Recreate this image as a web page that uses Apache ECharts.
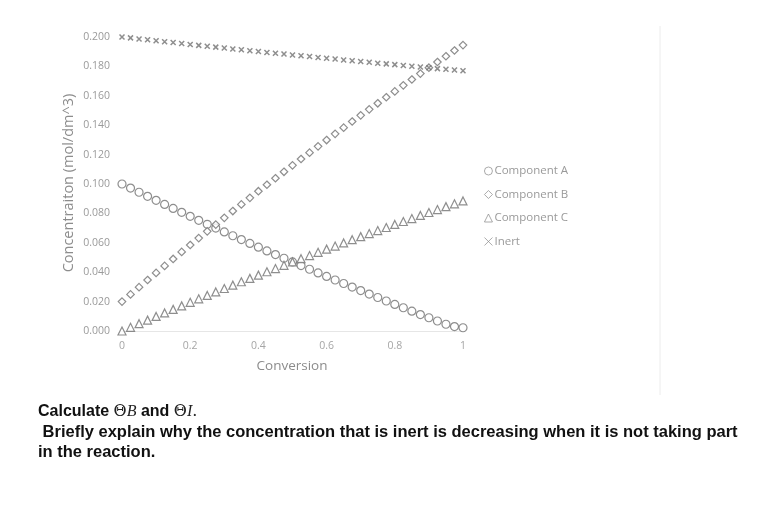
<!DOCTYPE html>
<html>
<head>
<meta charset="utf-8">
<script src="https://cdn.jsdelivr.net/npm/echarts@6/dist/echarts.min.js"></script>
<style>
html,body{margin:0;padding:0;background:#fff;}
#chart{width:763px;height:509px;}
</style>
</head>
<body>
<div id="chart"></div>
<script>
// Conversion values (x)
const conversion = [0,0.025,0.05,0.075,0.1,0.125,0.15,0.175,0.2,0.225,0.25,0.275,0.3,0.325,0.35,0.375,0.4,0.425,0.45,0.475,0.5,0.525,0.55,0.575,0.6,0.625,0.65,0.675,0.7,0.725,0.75,0.775,0.8,0.825,0.85,0.875,0.9,0.925,0.95,0.975,1];
// Concentrations (mol/dm^3)
const componentA = [0.1000,0.0972,0.0944,0.0916,0.0889,0.0861,0.0834,0.0807,0.0780,0.0753,0.0726,0.0700,0.0674,0.0648,0.0622,0.0596,0.0570,0.0545,0.0520,0.0495,0.0470,0.0445,0.0420,0.0395,0.0371,0.0347,0.0323,0.0299,0.0275,0.0251,0.0228,0.0204,0.0181,0.0158,0.0135,0.0112,0.0090,0.0068,0.0046,0.0030,0.0022];
const componentB = [0.0200,0.0249,0.0298,0.0347,0.0395,0.0443,0.0490,0.0538,0.0585,0.0632,0.0678,0.0724,0.0770,0.0816,0.0861,0.0906,0.0951,0.0995,0.1039,0.1083,0.1127,0.1170,0.1213,0.1256,0.1299,0.1341,0.1383,0.1425,0.1467,0.1508,0.1549,0.1590,0.1630,0.1671,0.1711,0.1751,0.1791,0.1830,0.1869,0.1908,0.1945];
const componentC = [0.0000,0.0025,0.0050,0.0074,0.0099,0.0123,0.0147,0.0171,0.0195,0.0219,0.0242,0.0266,0.0289,0.0312,0.0335,0.0358,0.0380,0.0403,0.0425,0.0447,0.0470,0.0492,0.0513,0.0535,0.0557,0.0578,0.0599,0.0621,0.0642,0.0663,0.0683,0.0704,0.0725,0.0745,0.0765,0.0786,0.0806,0.0826,0.0846,0.0865,0.0885];
const inert = [0.2000,0.1994,0.1987,0.1981,0.1974,0.1968,0.1962,0.1956,0.1949,0.1943,0.1937,0.1931,0.1925,0.1919,0.1913,0.1907,0.1901,0.1895,0.1890,0.1884,0.1878,0.1872,0.1867,0.1861,0.1855,0.1850,0.1844,0.1839,0.1833,0.1828,0.1822,0.1817,0.1812,0.1806,0.1801,0.1796,0.1791,0.1785,0.1780,0.1775,0.1770];
const seriesNames = ['Component A','Component B','Component C','Inert'];
const yTicks = [0,0.02,0.04,0.06,0.08,0.1,0.12,0.14,0.16,0.18,0.2];
const xTicks = [0,0.2,0.4,0.6,0.8,1];

const pairs = arr => conversion.map((x,i)=>[x,arr[i]]);
const markColor = '#727272';
const labelFont = '"Open Sans", Lato, sans-serif';

const chart = echarts.init(document.getElementById('chart'), null, {renderer:'canvas'});
function sym(name, symbol, size, data, bw){
  return {
    name: name, type: 'scatter', data: pairs(data),
    symbol: symbol, symbolSize: size,
    itemStyle: {color: '#ffffff', borderColor: markColor, borderWidth: bw},
    emphasis: {disabled: true}, animation: false, z: 3
  };
}
chart.setOption({
  backgroundColor: '#ffffff',
  animation: false,
  grid: {left: 122, right: 300, top: 37, bottom: 178},
  xAxis: {
    type: 'value', min: 0, max: 1, interval: 0.2,
    axisLine: {show: true, lineStyle: {color: '#e6e6e6', width: 1}},
    axisTick: {show: false}, splitLine: {show: false},
    axisLabel: {color: '#a6a6a6', fontSize: 10.5, fontFamily: labelFont, margin: 10,
      formatter: v => (xTicks.indexOf(Math.round(v*10)/10) >= 0 ? (v===0||v===1 ? String(v) : v.toFixed(1)) : '')}
  },
  yAxis: {
    type: 'value', min: 0, max: 0.2, interval: 0.02,
    axisLine: {show: false}, axisTick: {show: false}, splitLine: {show: false},
    axisLabel: {color: '#9a9a9a', fontSize: 10.5, fontFamily: labelFont, margin: 12,
      formatter: v => (yTicks.length ? v.toFixed(3) : '')}
  },
  legend: {
    orient: 'vertical', left: 479, top: 160, itemGap: 11.5,
    itemWidth: 8, itemHeight: 8, data: seriesNames,
    itemStyle: {color: '#ffffff', borderColor: '#8a8a8a', borderWidth: 0.9},
    textStyle: {color: '#9a9a9a', fontSize: 11.5, fontFamily: labelFont, padding: [0,0,0,-3]},
    selectedMode: false
  },
  series: [
    sym(seriesNames[0], 'circle', 8, componentA, 1.2),
    sym(seriesNames[1], 'diamond', 7.5, componentB, 1.2),
    sym(seriesNames[2], 'triangle', 8, componentC, 1.2),
    sym(seriesNames[3], 'path://M0 0L10 10M10 0L0 10', 5, inert, 1.5)
  ],
  graphic: [
    {type: 'line', shape: {x1: 660, y1: 26, x2: 660, y2: 395}, style: {stroke: '#ececec', lineWidth: 1}, silent: true},
    {type: 'text', x: 69, y: 183, rotation: Math.PI/2, silent: true,
      style: {text: 'Concentraiton (mol/dm^3)', fill: '#8c8c8c', font: '14.5px "Open Sans", Lato, sans-serif', align: 'center', verticalAlign: 'middle'}},
    {type: 'text', x: 292, y: 366, silent: true,
      style: {text: 'Conversion', fill: '#8c8c8c', font: '13.5px "Open Sans", Lato, sans-serif', align: 'center', verticalAlign: 'middle'}},
    {type: 'text', x: 38, y: 412, silent: true,
      style: {text: '{b|Calculate }{t|Θ}{i|B}{b| and }{t|Θ}{i|I}{t|.}', verticalAlign: 'middle',
        rich: {
          b: {font: 'bold 16px "Liberation Sans", Arial, sans-serif', fill: '#111'},
          t: {font: '16px "DejaVu Serif", "Liberation Serif", serif', fill: '#222'},
          i: {font: 'italic 16px "Liberation Serif", serif', fill: '#222'}
        }}},
    {type: 'text', x: 38, y: 432.5, silent: true,
      style: {text: ' Briefly explain why the concentration that is inert is decreasing when it is not taking part', fill: '#111', font: 'bold 16.5px "Liberation Sans", Arial, sans-serif', verticalAlign: 'middle'}},
    {type: 'text', x: 38, y: 452, silent: true,
      style: {text: 'in the reaction.', fill: '#111', font: 'bold 16.5px "Liberation Sans", Arial, sans-serif', verticalAlign: 'middle'}}
  ]
});
</script>
</body>
</html>
